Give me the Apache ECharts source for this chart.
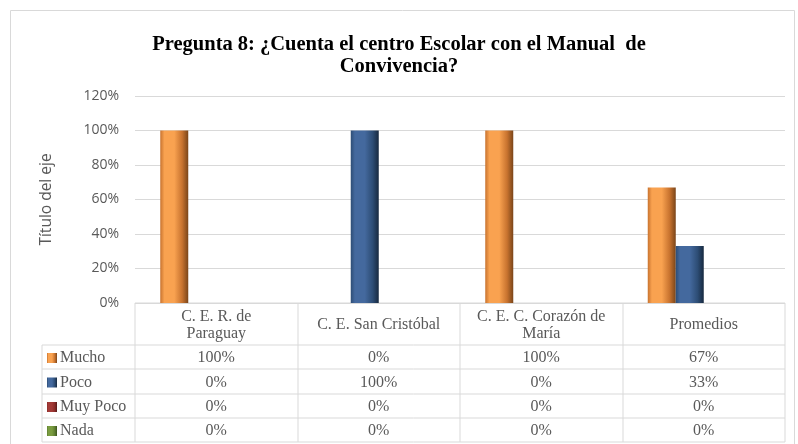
<!DOCTYPE html>
<html>
<head>
<meta charset="utf-8">
<script src="https://cdn.jsdelivr.net/npm/echarts@6/dist/echarts.min.js"></script>
<style>
  html, body { margin: 0; padding: 0; background: #fff; }
  #chart { width: 798px; height: 444px; }
</style>
</head>
<body>
<div id="chart"></div>
<script>
// datos de la tabla
const categories = ['C. E. R. de\nParaguay', 'C. E. San Cristóbal', 'C. E. C. Corazón de\nMaría', 'Promedios'];
const seriesNames = ['Mucho', 'Poco', 'Muy Poco', 'Nada'];
const mucho = [100, 0, 100, 67];
const poco = [0, 100, 0, 33];
const muyPoco = [0, 0, 0, 0];
const nada = [0, 0, 0, 0];
const values = [mucho, poco, muyPoco, nada];

// colores tipo bisel (claro, medio, oscuro)
const colors = [
  ['#c8732f', '#f9a250', '#7a4519'],
  ['#2d4d75', '#44699e', '#17293f'],
  ['#8a2c2a', '#a33a37', '#561a19'],
  ['#5f7f31', '#7a9c40', '#3b521d']
];

function bevel(c) {
  return new echarts.graphic.LinearGradient(0, 0, 1, 0, [
    { offset: 0, color: c[0] },
    { offset: 0.15, color: c[1] },
    { offset: 0.5, color: c[1] },
    { offset: 0.78, color: c[0] },
    { offset: 1, color: c[2] }
  ]);
}

// geometria del grid / tabla
const gLeft = 135, gRight = 785, gTop = 96, gBottom = 303;
const keyLeft = 42;
const rowLines = [345, 369, 394, 418, 442];
const lineColor = '#d9d9d9';
const txtColor = '#595959';
const serif = '"Liberation Serif", "Times New Roman", serif';

function buildTable() {
  const els = [];
  const colW = (gRight - gLeft) / categories.length;
  // lineas horizontales
  els.push({ type: 'line', shape: { x1: gLeft, y1: gBottom, x2: gRight, y2: gBottom }, style: { stroke: lineColor, lineWidth: 1 } });
  rowLines.forEach(function (y) {
    els.push({ type: 'line', shape: { x1: keyLeft, y1: y, x2: gRight, y2: y }, style: { stroke: lineColor, lineWidth: 1 } });
  });
  // lineas verticales
  for (let i = 0; i <= categories.length; i++) {
    const x = Math.round(gLeft + i * colW);
    els.push({ type: 'line', shape: { x1: x, y1: gBottom, x2: x, y2: rowLines[rowLines.length - 1] }, style: { stroke: lineColor, lineWidth: 1 } });
  }
  els.push({ type: 'line', shape: { x1: keyLeft, y1: rowLines[0], x2: keyLeft, y2: rowLines[rowLines.length - 1] }, style: { stroke: lineColor, lineWidth: 1 } });
  // encabezados
  categories.forEach(function (c, i) {
    els.push({
      type: 'text', x: gLeft + (i + 0.5) * colW, y: (gBottom + rowLines[0]) / 2 + 1,
      style: { text: c, fill: txtColor, font: '16px ' + serif, align: 'center', verticalAlign: 'middle', lineHeight: 17 }
    });
  });
  // filas
  seriesNames.forEach(function (name, r) {
    const yc = (rowLines[r] + rowLines[r + 1]) / 2;
    els.push({ type: 'rect', shape: { x: keyLeft + 5, y: yc - 4, width: 10, height: 10 }, style: { fill: bevel(colors[r]) } });
    els.push({ type: 'text', x: keyLeft + 18, y: yc + 1, style: { text: name, fill: txtColor, font: '16px ' + serif, align: 'left', verticalAlign: 'middle' } });
    values[r].forEach(function (v, i) {
      els.push({
        type: 'text', x: gLeft + (i + 0.5) * colW, y: yc + 1,
        style: { text: v + '%', fill: txtColor, font: '16px ' + serif, align: 'center', verticalAlign: 'middle' }
      });
    });
  });
  // borde exterior
  els.push({ type: 'rect', shape: { x: 10.5, y: 10.5, width: 784, height: 440 }, style: { fill: 'none', stroke: lineColor, lineWidth: 1 } });
  return els;
}

const chart = echarts.init(document.getElementById('chart'));
chart.setOption({
  animation: false,
  title: {
    text: 'Pregunta 8: ¿Cuenta el centro Escolar con el Manual  de\nConvivencia?',
    left: 'center', top: 29,
    textStyle: { fontFamily: serif, fontWeight: 'bold', fontSize: 20.5, color: '#000', lineHeight: 22 }
  },
  grid: { left: gLeft, right: 798 - gRight, top: gTop, bottom: 444 - gBottom },
  xAxis: {
    type: 'category',
    data: categories,
    axisLine: { show: false },
    axisTick: { show: false },
    axisLabel: { show: false }
  },
  yAxis: {
    type: 'value',
    min: 0, max: 120, interval: 20,
    name: 'Título del eje',
    nameLocation: 'middle',
    nameGap: 80,
    nameTextStyle: { fontFamily: '"Open Sans", sans-serif', fontSize: 15.5, color: txtColor },
    axisLabel: { formatter: '{value}%', fontFamily: '"Open Sans", sans-serif', fontSize: 14, color: txtColor, margin: 16 },
    splitLine: { lineStyle: { color: lineColor, width: 1 } }
  },
  series: seriesNames.map(function (n, i) {
    return {
      name: n, type: 'bar', data: values[i],
      barWidth: 28, barGap: '0%',
      itemStyle: { color: bevel(colors[i]) }
    };
  }),
  graphic: buildTable()
});
</script>
</body>
</html>
